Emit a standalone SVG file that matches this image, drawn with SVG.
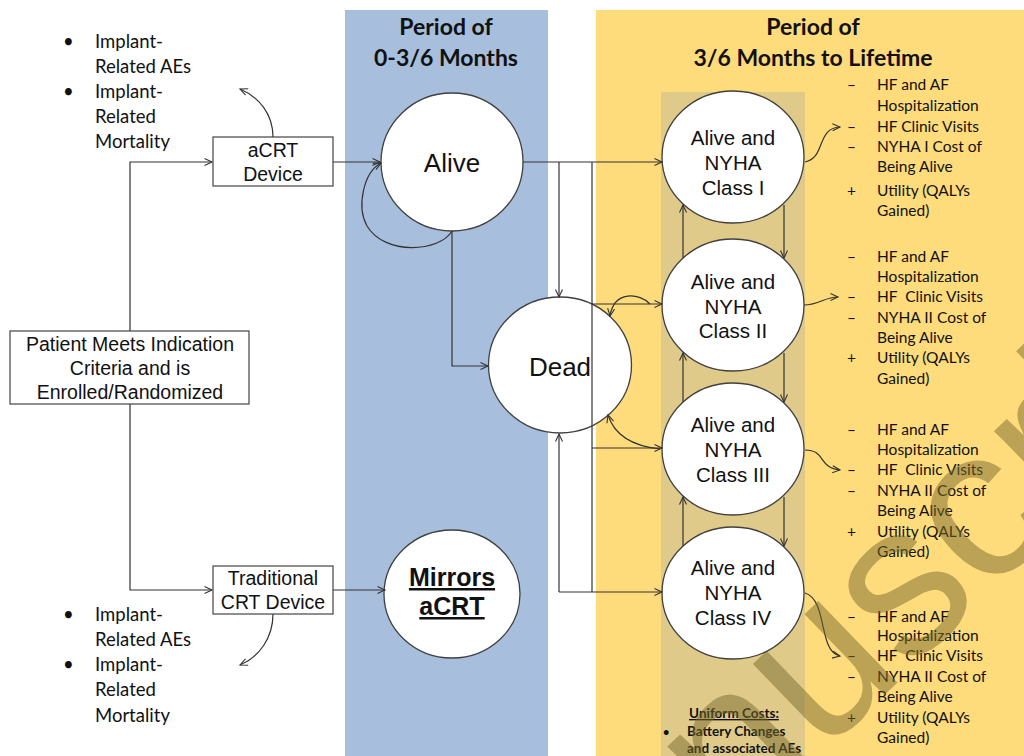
<svg xmlns="http://www.w3.org/2000/svg" width="1024" height="756" viewBox="0 0 1024 756">
<defs>
<marker id="arr" markerWidth="10" markerHeight="10" refX="8" refY="4" orient="auto" markerUnits="userSpaceOnUse">
<path d="M0.5,0.5 L8,4 L0.5,7.5" fill="none" stroke="#333" stroke-width="1.1"/>
</marker>
<style>
.bg-blue{fill:#a7bfdc}
.bg-yel{fill:#fedb7b}
.bg-col{fill:#dfca89}
.circ{fill:#fff;stroke:#404040;stroke-width:1.3}
.box{fill:#fff;stroke:#444;stroke-width:1.2}
.ar{font-family:"Liberation Sans",Arial,sans-serif;fill:#111;text-anchor:middle}
.cal{font-family:Lato,"Open Sans",sans-serif;fill:#111}
.title{font-family:Lato,"Open Sans",sans-serif;font-weight:bold;font-size:23px;fill:#111;text-anchor:middle}
.c{fill:none;stroke:#333;stroke-width:1.2}
.ca{fill:none;stroke:#333;stroke-width:1.2;marker-end:url(#arr)}
.lst{font-size:15.5px}
.lbl{font-size:19.5px}
.ny{font-size:20.5px}
</style>
</defs>
<rect width="1024" height="756" fill="#fff"/>
<g id="panels">
<rect class="bg-blue" x="345" y="10" width="203" height="746"/>
<rect class="bg-yel" x="596" y="10" width="428" height="746"/>
<rect class="bg-col" x="661" y="92" width="144" height="664"/>
<text class="title" x="446" y="35">Period of</text>
<text class="title" x="446" y="66">0-3/6 Months</text>
<text class="title" x="813" y="35" font-size="24">Period of</text>
<text class="title" x="813" y="66" font-size="24">3/6 Months to Lifetime</text>
</g>
<g id="patient">
<rect class="box" x="10" y="331" width="239" height="73"/>
<text class="ar lbl" x="130" y="351">Patient Meets Indication</text>
<text class="ar lbl" x="130" y="375">Criteria and is</text>
<text class="ar lbl" x="130" y="399">Enrolled/Randomized</text>
</g>
<g id="acrt">
<rect class="box" x="213" y="137" width="120" height="49"/>
<text class="ar lbl" x="273" y="157">aCRT</text>
<text class="ar lbl" x="273" y="181">Device</text>
</g>
<g id="trad">
<rect class="box" x="213" y="566" width="120" height="48"/>
<text class="ar lbl" x="273" y="585">Traditional</text>
<text class="ar lbl" x="273" y="609">CRT Device</text>
</g>
<g id="ae-top" class="cal" font-size="18.5">
<text x="63" y="48">•</text><text x="95" y="48">Implant-</text>
<text x="95" y="73">Related AEs</text>
<text x="63" y="98">•</text><text x="95" y="98">Implant-</text>
<text x="95" y="123">Related</text>
<text x="95" y="148">Mortality</text>
</g>
<g id="ae-bottom" class="cal" font-size="18.5">
<text x="63" y="621">•</text><text x="95" y="621">Implant-</text>
<text x="95" y="646">Related AEs</text>
<text x="63" y="671">•</text><text x="95" y="671">Implant-</text>
<text x="95" y="696">Related</text>
<text x="95" y="722">Mortality</text>
</g>
<g id="alive">
<ellipse class="circ" cx="452" cy="162" rx="71" ry="69"/>
<text class="ar" x="452" y="172" font-size="26">Alive</text>
</g>
<g id="mirrors">
<ellipse class="circ" cx="452" cy="594" rx="68" ry="64"/>
<text class="ar" x="452" y="586" font-size="25" font-weight="bold" text-decoration="underline">Mirrors</text>
<text class="ar" x="452" y="615" font-size="25" font-weight="bold" text-decoration="underline">aCRT</text>
</g>
<g id="dead">
<ellipse class="circ" cx="560" cy="365" rx="71.5" ry="68"/>
<text class="ar" x="560" y="376" font-size="26">Dead</text>
</g>
<g id="nyha1">
<ellipse class="circ" cx="733" cy="157" rx="71" ry="66"/>
<text class="ar ny" x="733" y="145">Alive and</text>
<text class="ar ny" x="733" y="170">NYHA</text>
<text class="ar ny" x="733" y="195">Class I</text>
</g>
<g id="nyha2">
<ellipse class="circ" cx="733" cy="305" rx="71" ry="66"/>
<text class="ar ny" x="733" y="289">Alive and</text>
<text class="ar ny" x="733" y="314">NYHA</text>
<text class="ar ny" x="733" y="338">Class II</text>
</g>
<g id="nyha3">
<ellipse class="circ" cx="733" cy="449" rx="71" ry="66"/>
<text class="ar ny" x="733" y="432">Alive and</text>
<text class="ar ny" x="733" y="457">NYHA</text>
<text class="ar ny" x="733" y="482">Class III</text>
</g>
<g id="nyha4">
<ellipse class="circ" cx="733" cy="593" rx="71" ry="66"/>
<text class="ar ny" x="733" y="575">Alive and</text>
<text class="ar ny" x="733" y="600">NYHA</text>
<text class="ar ny" x="733" y="625">Class IV</text>
</g>
<g id="costs1" class="cal lst">
<text x="847" y="90">–</text><text x="877" y="90">HF and AF</text>
<text x="877" y="111">Hospitalization</text>
<text x="847" y="132">–</text><text x="877" y="132">HF Clinic Visits</text>
<text x="847" y="152">–</text><text x="877" y="152">NYHA I Cost of</text>
<text x="877" y="172">Being Alive</text>
<text x="847" y="196">+</text><text x="877" y="196">Utility (QALYs</text>
<text x="877" y="216">Gained)</text>
</g>
<g id="costs2" class="cal lst">
<text x="847" y="262">–</text><text x="877" y="262">HF and AF</text>
<text x="877" y="282">Hospitalization</text>
<text x="847" y="302">–</text><text x="877" y="302" xml:space="preserve">HF  Clinic Visits</text>
<text x="847" y="323">–</text><text x="877" y="323">NYHA II Cost of</text>
<text x="877" y="343">Being Alive</text>
<text x="847" y="363">+</text><text x="877" y="363">Utility (QALYs</text>
<text x="877" y="384">Gained)</text>
</g>
<g id="costs3" class="cal lst">
<text x="847" y="435">–</text><text x="877" y="435">HF and AF</text>
<text x="877" y="455">Hospitalization</text>
<text x="847" y="475">–</text><text x="877" y="475" xml:space="preserve">HF  Clinic Visits</text>
<text x="847" y="496">–</text><text x="877" y="496">NYHA II Cost of</text>
<text x="877" y="516">Being Alive</text>
<text x="847" y="537">+</text><text x="877" y="537">Utility (QALYs</text>
<text x="877" y="557">Gained)</text>
</g>
<g id="costs4" class="cal lst">
<text x="847" y="622">–</text><text x="877" y="622">HF and AF</text>
<text x="877" y="641">Hospitalization</text>
<text x="847" y="661">–</text><text x="877" y="661" xml:space="preserve">HF  Clinic Visits</text>
<text x="847" y="682">–</text><text x="877" y="682">NYHA II Cost of</text>
<text x="877" y="702">Being Alive</text>
<text x="847" y="723">+</text><text x="877" y="723">Utility (QALYs</text>
<text x="877" y="743">Gained)</text>
</g>
<g id="uniform" class="cal" font-size="13.5" font-weight="bold">
<text x="734" y="718" text-anchor="middle" text-decoration="underline">Uniform Costs:</text>
<text x="663" y="736" font-size="11">•</text><text x="687" y="736">Battery Changes</text>
<text x="687" y="753">and associated AEs</text>
</g>
<g id="connectors">
<path class="ca" d="M130,331 V162 H212"/>
<path class="ca" d="M130,404 V590 H212"/>
<path class="ca" d="M333,162 H380"/>
<path class="ca" d="M333,590 H385"/>
<path class="ca" d="M273,137 C273,114 259,97 240,89"/>
<path class="ca" d="M273,614 C273,638 259,657 240,665"/>
<path class="ca" d="M452,231 C440,252 385,256 367,226 C356,206 364,172 381,163"/>
<path class="ca" d="M452,231 V366 H488"/>
<path class="ca" d="M523,162 H662"/>
<path class="ca" d="M559,162 V297"/>
<path class="c" d="M592,162 V592"/>
<path class="ca" d="M592,304 H662"/>
<path class="ca" d="M592,448 H662"/>
<path class="ca" d="M559,592 H662"/>
<path class="ca" d="M559,592 V434"/>
<path class="ca" d="M650,304 C640,293 614,290 610,316"/>
<path class="ca" d="M660,449 C632,446 614,434 608,415"/>
<path class="ca" d="M683,258 V205"/>
<path class="ca" d="M784,205 V258"/>
<path class="ca" d="M683,402 V353"/>
<path class="ca" d="M784,353 V402"/>
<path class="ca" d="M683,546 V497"/>
<path class="ca" d="M784,497 V546"/>
<path class="ca" d="M805,162 C826,158 816,128 840,127"/>
<path class="ca" d="M804,305 C820,305 824,297 838,297"/>
<path class="ca" d="M805,450 C826,450 818,468 840,470"/>
<path class="ca" d="M805,593 C828,600 818,652 840,656"/>
</g>
<g id="watermark" transform="translate(521,1046) rotate(-44)">
<text x="0" y="0" font-family="Liberation Sans,Arial,sans-serif" font-size="215" fill="#78692e" fill-opacity="0.5">Manuscript</text>
</g>
</svg>
